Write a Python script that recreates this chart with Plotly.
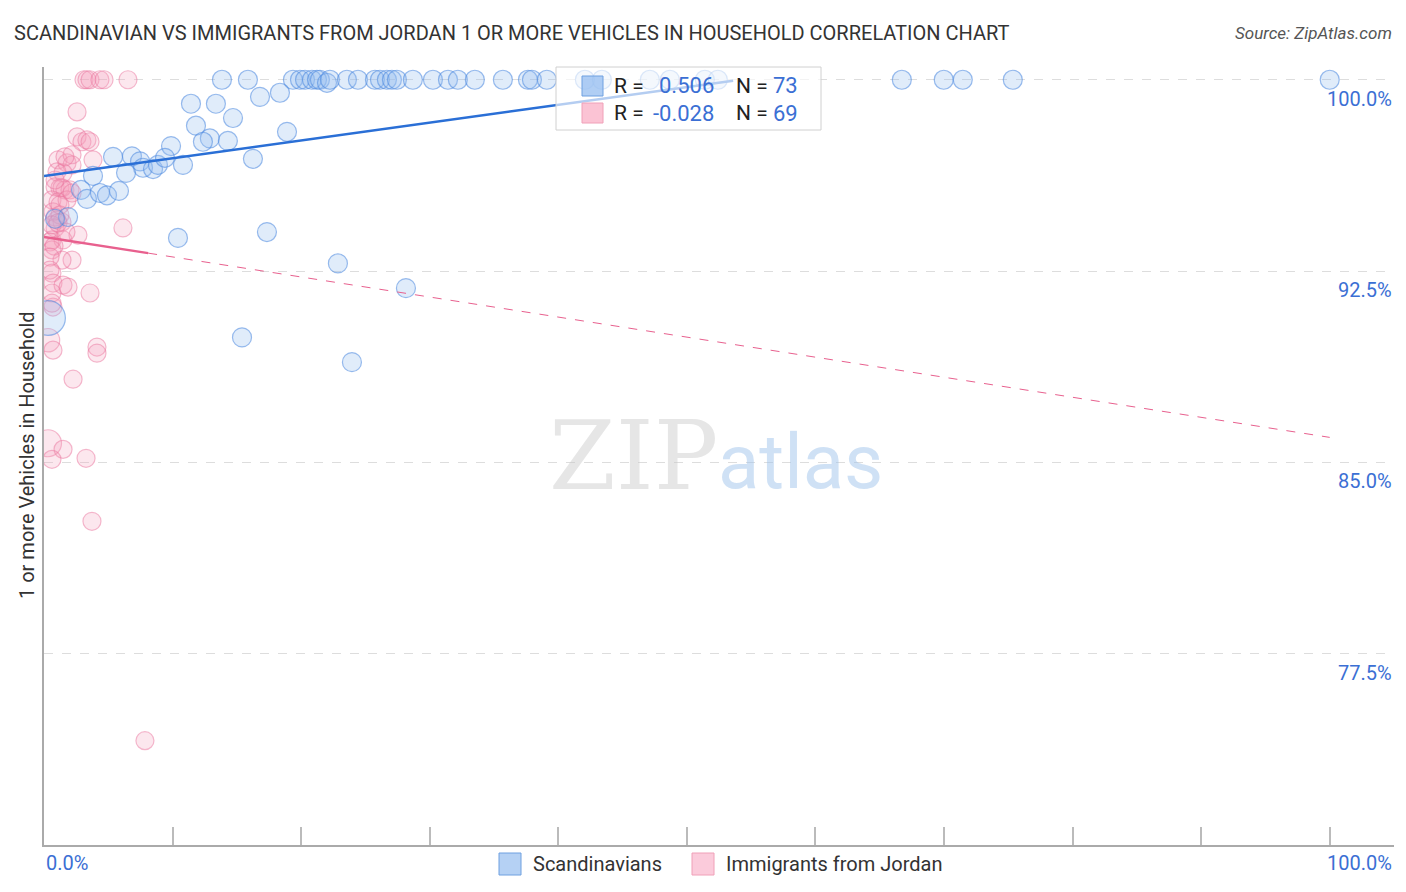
import plotly.graph_objects as go

# ---------------- data ----------------
blue_x = [13.84, 15.86, 19.36, 19.91, 20.30, 20.84, 21.23, 21.46, 22.01, 22.24, 23.56, 24.42,
          25.74, 26.13, 26.67, 27.06, 27.45, 28.69, 30.25, 31.42, 32.19, 33.51, 35.69, 37.64,
          37.95, 39.11, 42.07, 43.39, 47.12, 48.68, 51.40, 52.41, 66.72, 69.98, 71.46, 75.35, 100.0,
          16.8, 18.35, 11.43, 13.37, 14.70, 11.82, 18.9, 12.9, 12.36, 14.3, 9.88, 5.37, 6.84,
          7.47, 7.7, 8.48, 8.86, 9.41, 10.81, 16.25, 3.81, 6.38, 2.88, 3.34, 4.35, 4.9, 5.83,
          1.87, 0.86, 10.42, 17.34, 22.86, 28.15, 15.4, 23.95, 0.31]
blue_y = [100.0, 100.0, 100.0, 100.0, 100.0, 100.0, 100.0, 100.0, 99.88, 100.0, 100.0, 100.0,
          100.0, 100.0, 100.0, 100.0, 100.0, 100.0, 100.0, 100.0, 100.0, 100.0, 100.0, 100.0,
          100.0, 100.0, 100.0, 100.0, 100.0, 100.0, 100.0, 100.0, 100.0, 100.0, 100.0, 100.0, 100.0,
          99.33, 99.49, 99.06, 99.06, 98.5, 98.2, 97.96, 97.7, 97.57, 97.6, 97.4, 96.98, 97.0,
          96.8, 96.55, 96.5, 96.66, 96.94, 96.66, 96.9, 96.23, 96.35, 95.68, 95.33, 95.56, 95.47, 95.64,
          94.62, 94.55, 93.8, 94.03, 92.8, 91.83, 89.9, 88.93, 90.66]
blue_weight = [1] * 72 + [3]

pink_x = [3.11, 3.34, 3.58, 4.35, 4.67, 6.53, 2.57, 2.57, 2.95, 3.34, 3.58, 3.81, 1.09, 1.79,
          2.18, 2.18, 1.01, 1.48, 1.63, 0.86, 1.24, 1.63, 2.02, 1.4, 0.62, 1.09, 1.79, 2.18,
          0.7, 1.01, 1.4, 0.86, 1.24, 0.86, 0.62, 1.09, 2.64, 6.14, 0.62, 1.48, 0.47, 0.62,
          0.78, 2.18, 1.4, 0.47, 0.62, 0.47, 0.7, 1.48, 1.87, 3.58, 0.62, 0.7, 0.62, 0.31,
          0.7, 4.12, 4.12, 2.26, 0.31, 1.48, 0.62, 3.27, 3.73, 7.85, 0.86, 1.24, 1.71]
pink_y = [100.0, 100.0, 100.0, 100.0, 100.0, 100.0, 98.74, 97.76, 97.57, 97.64, 97.57, 96.86,
          96.86, 96.74, 97.06, 96.66, 96.39, 96.35, 96.98, 95.8, 95.76, 95.68, 95.68, 95.76,
          95.29, 95.21, 95.29, 95.56, 94.82, 94.5, 94.42, 94.62, 94.7, 94.19, 94.31, 94.39,
          93.91, 94.19, 93.72, 93.72, 93.64, 93.33, 93.48, 92.93, 92.93, 93.05, 92.42, 92.54,
          92.03, 91.95, 91.87, 91.64, 91.64, 91.09, 91.24, 89.79, 89.4, 89.52, 89.28, 88.26,
          85.75, 85.51, 85.12, 85.16, 82.69, 74.09, 96.07, 95.09, 94.03]
pink_weight = [1] * 55 + [1.3] + [1] * 4 + [1.5] + [1] * 8

# trend lines: (intercept, slope, end of solid part, end of line)
blue_trend = (96.23, 0.0696, 53.6, 53.6)
pink_trend = (93.84, -0.0786, 8.1, 100.0)

blue_stats = ("0.506", "73")
pink_stats = ("-0.028", "69")

y_ticks = [100.0, 92.5, 85.0, 77.5]
y_tick_text = ["100.0%", "92.5%", "85.0%", "77.5%"]
x_ticks = [0, 10, 20, 30, 40, 50, 60, 70, 80, 90, 100]

title = "SCANDINAVIAN VS IMMIGRANTS FROM JORDAN 1 OR MORE VEHICLES IN HOUSEHOLD CORRELATION CHART"
source = "Source: ZipAtlas.com"
series_names = ["Scandinavians", "Immigrants from Jordan"]

# ---------------- styling ----------------
W, H = 1406, 892
L, R, T, B = 44, 12, 67, 47
PW, PH = W - L - R, H - T - B
FONT = "Roboto"
BLUE_TXT = "#3b6fd4"
BLUE_FILL = "rgba(150,190,240,0.42)"
BLUE_LINE = "rgba(80,140,225,0.85)"
PINK_FILL = "rgba(245,160,190,0.35)"
PINK_LINE = "rgba(235,120,160,0.75)"


def px_x(p):
    return (p - L) / PW


def px_y(p):
    return (H - B - p) / PH


fig = go.Figure()

fig.add_trace(go.Scatter(
    x=pink_x, y=pink_y, mode="markers", showlegend=False,
    marker=dict(size=[18 * w for w in pink_weight], color=PINK_FILL,
                line=dict(color=PINK_LINE, width=1.2))))
fig.add_trace(go.Scatter(
    x=blue_x, y=blue_y, mode="markers", showlegend=False,
    marker=dict(size=[19 * (w ** 0.55) for w in blue_weight], color=BLUE_FILL,
                line=dict(color=BLUE_LINE, width=1.2))))


def trend(tr, color, width_solid):
    b0, b1, xs, xe = tr
    fig.add_trace(go.Scatter(x=[0, xs], y=[b0, b0 + b1 * xs], mode="lines", showlegend=False,
                             line=dict(color=color, width=width_solid)))
    if xe > xs:
        fig.add_trace(go.Scatter(x=[xs, xe], y=[b0 + b1 * xs, b0 + b1 * xe], mode="lines",
                                 showlegend=False,
                                 line=dict(color=color, width=1, dash="dash")))


trend(blue_trend, "#2a6fd6", 2.5)
trend(pink_trend, "#e8608e", 2.5)

shapes = []
ann = []

# title and source
ann.append(dict(x=px_x(12), y=px_y(33), xref="paper", yref="paper", text=title, showarrow=False,
                xanchor="left", yanchor="middle", font=dict(family=FONT, size=20, color="#333")))
ann.append(dict(x=px_x(1394), y=px_y(33), xref="paper", yref="paper", text="<i>" + source + "</i>",
                showarrow=False, xanchor="right", yanchor="middle",
                font=dict(family=FONT, size=17, color="#555")))

# y tick labels (below each grid line, right side)
for v, t in zip(y_ticks, y_tick_text):
    ann.append(dict(x=px_x(1394), y=v, xref="paper", yref="y", text=t, showarrow=False,
                    xanchor="right", yanchor="top", yshift=-5,
                    font=dict(family=FONT, size=20, color=BLUE_TXT)))

# x tick labels
ann.append(dict(x=0, y=px_y(863), xref="paper", yref="paper", text="0.0%", showarrow=False,
                xanchor="left", yanchor="middle", font=dict(family=FONT, size=20, color=BLUE_TXT)))
ann.append(dict(x=px_x(1394), y=px_y(863), xref="paper", yref="paper", text="100.0%", showarrow=False,
                xanchor="right", yanchor="middle", font=dict(family=FONT, size=20, color=BLUE_TXT)))

# y axis title
ann.append(dict(x=px_x(27), y=px_y(455), xref="paper", yref="paper",
                text="1 or more Vehicles in Household", showarrow=False, textangle=-90,
                xanchor="center", yanchor="middle", font=dict(family=FONT, size=20, color="#333")))

# watermark
ann.append(dict(x=px_x(633), y=px_y(456), xref="paper", yref="paper", text="ZIP", showarrow=False,
                xanchor="center", yanchor="middle",
                font=dict(family="DejaVu Serif", size=96, color="rgba(200,200,200,0.45)")))
ann.append(dict(x=px_x(800), y=px_y(462), xref="paper", yref="paper", text="atlas", showarrow=False,
                xanchor="center", yanchor="middle",
                font=dict(family=FONT, size=76, color="rgba(160,195,235,0.5)")))

# stats legend box
shapes.append(dict(type="rect", xref="paper", yref="paper", x0=px_x(556), x1=px_x(821),
                   y0=px_y(130), y1=px_y(67), fillcolor="rgba(255,255,255,0.65)",
                   line=dict(color="#d0d0d0", width=1), layer="above"))
for i, (stats, fill, edge) in enumerate([(blue_stats, "rgba(150,190,240,0.75)", "#6fa0e0"),
                                          (pink_stats, "rgba(250,185,205,0.85)", "#f0a0b8")]):
    cy = 86 + 27 * i
    shapes.append(dict(type="rect", xref="paper", yref="paper", x0=px_x(582), x1=px_x(603),
                       y0=px_y(cy + 10), y1=px_y(cy - 10), fillcolor=fill,
                       line=dict(color=edge, width=1), layer="above"))
    ann.append(dict(x=px_x(612), y=px_y(cy), xref="paper", yref="paper", text="R = ",
                    showarrow=False, xanchor="left", yanchor="middle",
                    font=dict(family=FONT, size=21, color="#222")))
    ann.append(dict(x=px_x(716), y=px_y(cy), xref="paper", yref="paper", text=stats[0],
                    showarrow=False, xanchor="right", yanchor="middle",
                    font=dict(family=FONT, size=22, color=BLUE_TXT)))
    ann.append(dict(x=px_x(734), y=px_y(cy), xref="paper", yref="paper", text="N = ",
                    showarrow=False, xanchor="left", yanchor="middle",
                    font=dict(family=FONT, size=21, color="#222")))
    ann.append(dict(x=px_x(771), y=px_y(cy), xref="paper", yref="paper", text=stats[1],
                    showarrow=False, xanchor="left", yanchor="middle",
                    font=dict(family=FONT, size=22, color=BLUE_TXT)))

# bottom legend
for name, x0, fill, edge in [(series_names[0], 499, "rgba(150,190,240,0.7)", "#6fa0e0"),
                             (series_names[1], 692, "rgba(250,190,210,0.8)", "#f0a0b8")]:
    shapes.append(dict(type="rect", xref="paper", yref="paper", x0=px_x(x0), x1=px_x(x0 + 22),
                       y0=px_y(875), y1=px_y(853), fillcolor=fill,
                       line=dict(color=edge, width=1)))
    ann.append(dict(x=px_x(x0 + 32), y=px_y(864), xref="paper", yref="paper", text=name,
                    showarrow=False, xanchor="left", yanchor="middle",
                    font=dict(family=FONT, size=20, color="#333")))

fig.update_layout(
    width=W, height=H, margin=dict(l=L, r=R, t=T, b=B),
    paper_bgcolor="white", plot_bgcolor="white",
    shapes=shapes, annotations=ann, showlegend=False,
    xaxis=dict(range=[0, 105], showgrid=False, zeroline=False, showline=True,
               linecolor="#aaaaaa", linewidth=1.5, ticks="inside", tickvals=x_ticks,
               ticklen=18, tickcolor="#bbbbbb", tickwidth=1.5, showticklabels=False),
    yaxis=dict(range=[70, 100.5], showgrid=True, gridcolor="#dddddd", griddash="dash",
               gridwidth=1, tickvals=y_ticks, zeroline=False, showline=True,
               linecolor="#aaaaaa", linewidth=1.5, ticks="", showticklabels=False),
)

fig.write_html("out.html", config={"displayModeBar": False},
               post_script="document.body.style.margin='0';document.body.style.overflow='hidden';")
